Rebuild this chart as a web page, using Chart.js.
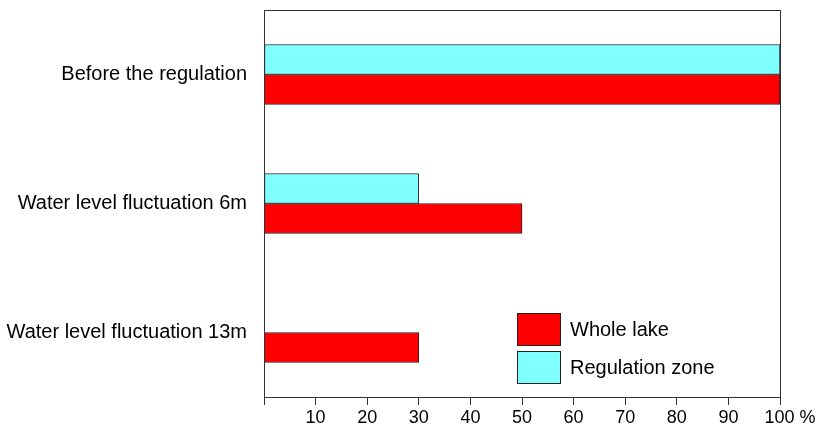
<!DOCTYPE html>
<html>
<head>
<meta charset="utf-8">
<script src="https://cdn.jsdelivr.net/npm/chart.js@4/dist/chart.umd.min.js"></script>
<style>
  html, body { margin: 0; padding: 0; background: #fff; }
  #wrap { position: relative; width: 819px; height: 425px; }
</style>
</head>
<body>
<div id="wrap"><canvas id="lakeChart" width="819" height="425"></canvas></div>
<script>
// chart data
const categories = ["Before the regulation", "Water level fluctuation 6m", "Water level fluctuation 13m"];
const regulationZone = [100, 30, 0];
const wholeLake = [100, 50, 30];
const xTicks = [0, 10, 20, 30, 40, 50, 60, 70, 80, 90, 100];

const FONT = "'Liberation Sans', Arial, sans-serif";

// draws the box round the plot area
const frameBox = {
  id: "frameBox",
  afterDatasetsDraw(chart) {
    const a = chart.chartArea;
    const ctx = chart.ctx;
    ctx.save();
    ctx.strokeStyle = "#333";
    ctx.lineWidth = 1;
    ctx.strokeRect(Math.round(a.left) + 0.5, Math.round(a.top) + 0.5,
      Math.round(a.right - a.left), Math.round(a.bottom - a.top));
    ctx.restore();
  }
};

// legend inside the plot, whole lake first
const boxLegend = {
  id: "boxLegend",
  afterDraw(chart) {
    const a = chart.chartArea;
    const ctx = chart.ctx;
    const order = [1, 0];
    ctx.save();
    ctx.font = "20px " + FONT;
    ctx.textBaseline = "middle";
    order.forEach((di, i) => {
      const ds = chart.data.datasets[di];
      const x = a.left + 253;
      const y = a.top + 303 + i * 38;
      ctx.fillStyle = ds.backgroundColor;
      ctx.fillRect(x, y, 43, 32);
      ctx.strokeStyle = "#222";
      ctx.lineWidth = 1;
      ctx.strokeRect(x + 0.5, y + 0.5, 43, 32);
      ctx.fillStyle = "#000";
      ctx.fillText(ds.label, x + 53, y + 17);
    });
    ctx.restore();
  }
};

new Chart(document.getElementById("lakeChart"), {
  type: "bar",
  data: {
    labels: categories,
    datasets: [
      { label: "Regulation zone", data: regulationZone, backgroundColor: "#80ffff",
        borderColor: "#222", borderWidth: 1, borderSkipped: false, barThickness: 30 },
      { label: "Whole lake", data: wholeLake, backgroundColor: "#ff0000",
        borderColor: "#222", borderWidth: 1, borderSkipped: false, barThickness: 30 }
    ]
  },
  options: {
    indexAxis: "y",
    responsive: false,
    animation: false,
    layout: { padding: { top: 10, right: 39, left: 0, bottom: 0 } },
    plugins: {
      legend: { display: false },
      tooltip: { enabled: false }
    },
    scales: {
      x: {
        type: "linear",
        min: 0,
        max: 100,
        afterBuildTicks: (scale) => { scale.ticks = xTicks.map(v => ({ value: v })); },
        afterFit: (scale) => { scale.height = 28; },
        grid: { drawOnChartArea: false, tickLength: 8, color: "#333", tickColor: "#333" },
        border: { color: "#333" },
        ticks: {
          color: "#000",
          font: { family: FONT, size: 18 },
          padding: 2,
          maxRotation: 0,
          autoSkip: false,
          // keep "100" on its tick with the % sign hanging to the right
          callback: (v) => v === 0 ? "" : (v === 100 ? "    100 %" : String(v))
        }
      },
      y: {
        afterFit: (scale) => {
          scale.width = 264;
          scale.paddingTop = 0;
          scale.paddingBottom = 0;
        },
        grid: { display: false },
        border: { color: "#333" },
        ticks: {
          color: "#000",
          font: { family: FONT, size: 20 },
          padding: 9
        }
      }
    }
  },
  plugins: [frameBox, boxLegend]
});
</script>
</body>
</html>
